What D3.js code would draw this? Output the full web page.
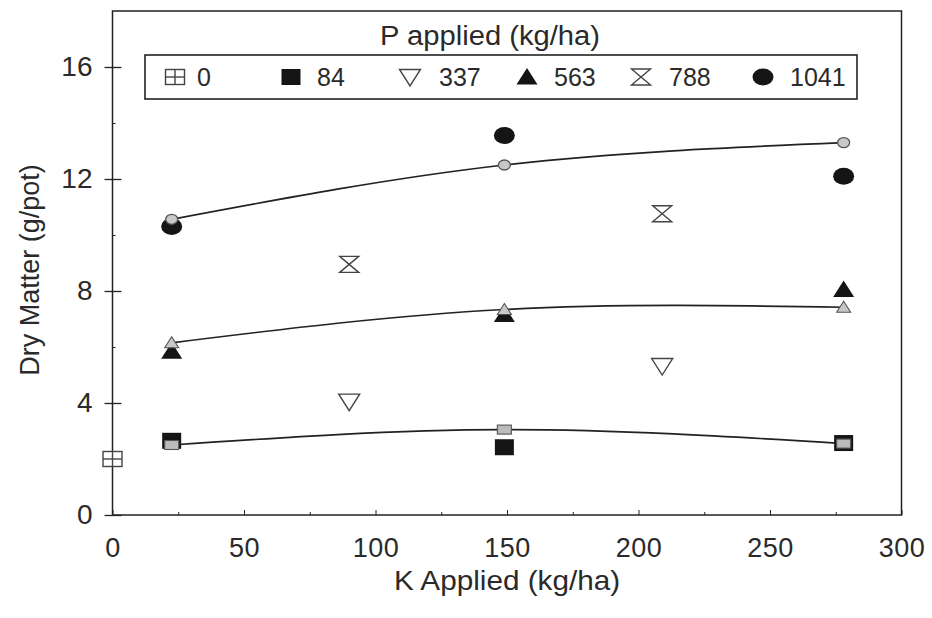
<!DOCTYPE html>
<html>
<head>
<meta charset="utf-8">
<script src="https://cdn.jsdelivr.net/npm/d3@7"></script>
<style>
  html, body { margin: 0; padding: 0; background: #fff; }
  svg { display: block; }
  text { font-family: "Liberation Sans", Arial, sans-serif; fill: #2a2a2a; }
</style>
</head>
<body>
<svg id="chart" width="932" height="618"></svg>
<script>
// ---- data ----
const legendTitle = "P applied (kg/ha)";
const pLevels = ["0", "84", "337", "563", "788", "1041"];
const symbolsByLevel = ["crossSquare", "filledSquare", "downTriangle", "upTriangle", "hourglass", "filledCircle"];

const kP0 = [0];               const dmP0 = [2.0];
const kP84 = [22.5, 149, 278]; const dmP84 = [2.65, 2.42, 2.57];
const kP337 = [90, 209];       const dmP337 = [4.05, 5.32];
const kP563 = [22.5, 149, 278]; const dmP563 = [5.85, 7.16, 8.05];
const kP788 = [90, 209];       const dmP788 = [8.95, 10.76];
const kP1041 = [22.5, 149, 278]; const dmP1041 = [10.3, 13.55, 12.1];

// fitted (predicted) values drawn as smooth lines with small grey markers
const fitK = [22.5, 149, 278];
const fitLow = [2.5, 3.05, 2.55];
const fitMid = [6.15, 7.34, 7.42];
const fitHigh = [10.56, 12.5, 13.3];
const fitSymbols = ["smallSquare", "smallTriangle", "smallCircle"];

const xTicks = [0, 50, 100, 150, 200, 250, 300];
const xMinorTicks = [25, 75, 125, 175, 225, 275];
const yTicks = [0, 4, 8, 12, 16];
const yMinorTicks = [2, 6, 10, 14];
const xTitle = "K Applied (kg/ha)";
const yTitle = "Dry Matter (g/pot)";

// ---- layout ----
const svg = d3.select("#chart");
const x = d3.scaleLinear().domain([0, 300]).range([112.5, 901.5]);
const y = d3.scaleLinear().domain([0, 18]).range([515, 11]);
const ink = "#222";
const txt = "#333";

// frame
svg.append("rect")
  .attr("x", x(0)).attr("y", y(18))
  .attr("width", x(300) - x(0)).attr("height", y(0) - y(18))
  .attr("fill", "none").attr("stroke", ink).attr("stroke-width", 1.5);

// y axis: major ticks crossing, labels
const yAxisOut = svg.append("g").attr("transform", `translate(${x(0)},0)`)
  .call(d3.axisLeft(y).tickValues(yTicks).tickSize(8).tickPadding(12).tickFormat(d3.format("d")));
yAxisOut.select(".domain").remove();
yAxisOut.selectAll("line").attr("stroke", ink).attr("stroke-width", 1.3);
yAxisOut.selectAll("text").attr("font-size", 28).attr("fill", txt)
  .style("font-family", "Liberation Sans, Arial, sans-serif");
const yAxisIn = svg.append("g").attr("transform", `translate(${x(0)},0)`)
  .call(d3.axisLeft(y).tickValues(yTicks).tickSize(-9).tickFormat(""));
yAxisIn.select(".domain").remove();
yAxisIn.selectAll("line").attr("stroke", ink).attr("stroke-width", 1.3);
const yAxisMinor = svg.append("g").attr("transform", `translate(${x(0)},0)`)
  .call(d3.axisLeft(y).tickValues(yMinorTicks).tickSize(-3).tickFormat(""));
yAxisMinor.select(".domain").remove();
yAxisMinor.selectAll("line").attr("stroke", ink);

// x axis: inward ticks, labels below
const xAxis = svg.append("g").attr("transform", `translate(0,${y(0)})`)
  .call(d3.axisBottom(x).tickValues(xTicks).tickSize(-5).tickPadding(23).tickFormat(d3.format("d")));
xAxis.select(".domain").remove();
xAxis.selectAll("line").attr("stroke", ink);
xAxis.selectAll("text").attr("font-size", 27).attr("fill", txt)
  .attr("transform", "scale(1.05,1)")
  .style("font-family", "Liberation Sans, Arial, sans-serif");
xAxis.selectAll(".tick").each(function () {
  // keep horizontal scaling centred on each tick
  const t = d3.select(this).select("text");
  t.attr("transform", null).style("letter-spacing", "0.5px");
});
const xAxisMinor = svg.append("g").attr("transform", `translate(0,${y(0)})`)
  .call(d3.axisBottom(x).tickValues(xMinorTicks).tickSize(-3).tickFormat(""));
xAxisMinor.select(".domain").remove();
xAxisMinor.selectAll("line").attr("stroke", ink);

// axis titles
svg.append("text").attr("transform", "translate(507,590) scale(1.1,1)")
  .attr("text-anchor", "middle").attr("font-size", 27).attr("fill", txt).text(xTitle);
svg.append("text").attr("transform", `translate(39,270) rotate(-90)`)
  .attr("text-anchor", "middle").attr("font-size", 27).attr("fill", txt).text(yTitle);

// ---- symbols ----
function drawSymbol(g, type, cx, cy) {
  const s = g.append("g").attr("transform", `translate(${cx},${cy})`);
  switch (type) {
    case "crossSquare":
      s.append("rect").attr("x", -9.5).attr("y", -7.5).attr("width", 19).attr("height", 15)
        .attr("fill", "#fff").attr("stroke", "#444").attr("stroke-width", 1.4);
      s.append("line").attr("x1", -9.5).attr("x2", 9.5).attr("y1", 0).attr("y2", 0).attr("stroke", "#444").attr("stroke-width", 1.4);
      s.append("line").attr("x1", 0).attr("x2", 0).attr("y1", -7.5).attr("y2", 7.5).attr("stroke", "#444").attr("stroke-width", 1.4);
      break;
    case "filledSquare":
      s.append("rect").attr("x", -9.5).attr("y", -8).attr("width", 19).attr("height", 16).attr("fill", "#151515");
      break;
    case "downTriangle":
      s.append("path").attr("d", "M-10.5,-7.5 L10.5,-7.5 L0,9 Z").attr("fill", "#fff")
        .attr("stroke", "#444").attr("stroke-width", 1.4);
      break;
    case "upTriangle":
      s.append("path").attr("d", "M-10.5,7.5 L10.5,7.5 L0,-9 Z").attr("fill", "#151515");
      break;
    case "hourglass":
      s.append("path").attr("d", "M-9.5,-8 L9.5,-8 L-9.5,8 L9.5,8 Z").attr("fill", "#fff")
        .attr("stroke", "#444").attr("stroke-width", 1.4).attr("stroke-linejoin", "miter");
      break;
    case "filledCircle":
      s.append("ellipse").attr("rx", 10.5).attr("ry", 8.5).attr("fill", "#151515");
      break;
    case "smallCircle":
      s.append("ellipse").attr("rx", 6).attr("ry", 5).attr("fill", "#c8c8c8")
        .attr("stroke", "#555").attr("stroke-width", 1.3);
      break;
    case "smallTriangle":
      s.append("path").attr("d", "M-7,5 L7,5 L0,-6 Z").attr("fill", "#c8c8c8")
        .attr("stroke", "#555").attr("stroke-width", 1.1);
      break;
    case "smallSquare":
      s.append("rect").attr("x", -7).attr("y", -4.5).attr("width", 14).attr("height", 9)
        .attr("fill", "#bbb").attr("stroke", "#555").attr("stroke-width", 1.1);
      break;
  }
}

// observed points
const series = [
  { k: kP0, dm: dmP0 }, { k: kP84, dm: dmP84 }, { k: kP337, dm: dmP337 },
  { k: kP563, dm: dmP563 }, { k: kP788, dm: dmP788 }, { k: kP1041, dm: dmP1041 }
];
const pts = svg.append("g");
series.forEach((s, i) => {
  s.k.forEach((kv, j) => drawSymbol(pts, symbolsByLevel[i], x(kv), y(s.dm[j])));
});

// fitted curves
const fits = [fitLow, fitMid, fitHigh];
const line = d3.line().x(d => x(d[0])).y(d => y(d[1])).curve(d3.curveNatural);
const fitG = svg.append("g");
fits.forEach((f, i) => {
  const data = fitK.map((kv, j) => [kv, f[j]]);
  fitG.append("path").attr("d", line(data)).attr("fill", "none")
    .attr("stroke", ink).attr("stroke-width", 1.7);
  data.forEach(d => drawSymbol(fitG, fitSymbols[i], x(d[0]), y(d[1])));
});

// ---- legend ----
svg.append("text").attr("transform", "translate(490,45) scale(1.08,1)")
  .attr("text-anchor", "middle").attr("font-size", 27).attr("fill", txt).text(legendTitle);
svg.append("rect").attr("x", 145).attr("y", 55).attr("width", 712).attr("height", 44)
  .attr("fill", "#fff").attr("stroke", ink).attr("stroke-width", 1.6);
const legendSymX = [175, 291, 410, 527, 641, 763];
const legendTextX = [197, 317, 439, 554, 669, 790];
const lg = svg.append("g");
pLevels.forEach((lab, i) => {
  drawSymbol(lg, symbolsByLevel[i], legendSymX[i], 77);
  lg.append("text").attr("x", legendTextX[i]).attr("y", 86).attr("font-size", 25)
    .attr("fill", txt).text(lab);
});
</script>
</body>
</html>
